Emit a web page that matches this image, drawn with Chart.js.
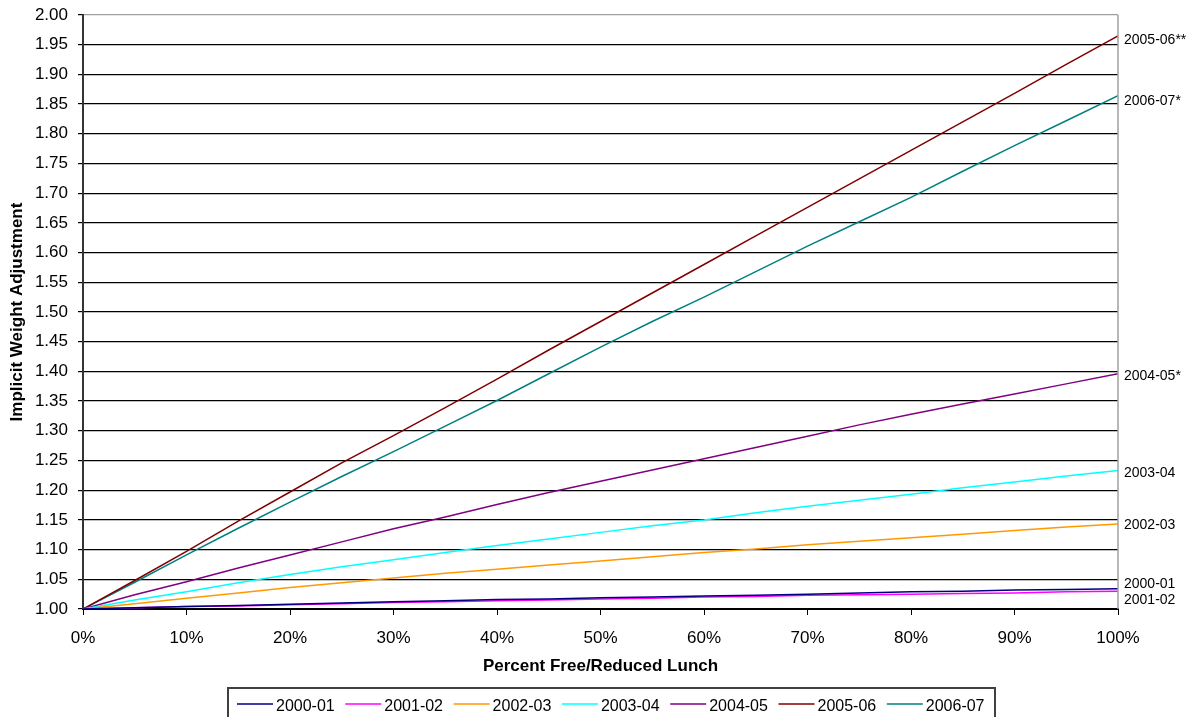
<!DOCTYPE html>
<html>
<head>
<meta charset="utf-8">
<script src="https://cdn.jsdelivr.net/npm/chart.js@4.4.1/dist/chart.umd.min.js"></script>
<style>
  body { margin: 0; background: #fff; }
  canvas { display: block; }
</style>
</head>
<body>
<canvas id="myChart" width="1190" height="717"></canvas>
<script>
// percent free/reduced lunch (x values)
const pct = [0, 5, 10, 15, 20, 25, 30, 35, 40, 45, 50, 55, 60, 65, 70, 75, 80, 85, 90, 95, 100]

const seriesNames = ['2000-01', '2001-02', '2002-03', '2003-04', '2004-05', '2005-06', '2006-07']
const endLabels = ['2000-01', '2001-02', '2002-03', '2003-04', '2004-05*', '2005-06**', '2006-07*']
const seriesColors = ['#000080', '#ff00ff', '#ff9900', '#00ffff', '#800080', '#800000', '#008080']

const y2000 = [1.000, 1.002, 1.004, 1.006, 1.008, 1.010, 1.012, 1.014, 1.016, 1.017, 1.019, 1.020, 1.022, 1.023, 1.025, 1.027, 1.029, 1.030, 1.032, 1.033, 1.034]
const y2001 = [1.000, 1.002, 1.004, 1.005, 1.007, 1.009, 1.011, 1.012, 1.014, 1.015, 1.017, 1.018, 1.020, 1.021, 1.023, 1.024, 1.025, 1.026, 1.027, 1.029, 1.030]
const y2002 = [1.000, 1.009, 1.018, 1.027, 1.036, 1.044, 1.052, 1.060, 1.067, 1.074, 1.081, 1.088, 1.095, 1.101, 1.108, 1.114, 1.120, 1.126, 1.132, 1.138, 1.143]
const y2003 = [1.000, 1.015, 1.029, 1.044, 1.058, 1.071, 1.083, 1.095, 1.107, 1.118, 1.129, 1.140, 1.150, 1.162, 1.173, 1.183, 1.193, 1.204, 1.214, 1.224, 1.233]
const y2004 = [1.000, 1.024, 1.046, 1.069, 1.091, 1.113, 1.135, 1.155, 1.176, 1.196, 1.215, 1.234, 1.253, 1.272, 1.291, 1.310, 1.328, 1.345, 1.362, 1.379, 1.396]
const y2005 = [1.000, 1.048, 1.097, 1.148, 1.197, 1.246, 1.292, 1.339, 1.387, 1.436, 1.484, 1.532, 1.580, 1.628, 1.676, 1.724, 1.772, 1.820, 1.868, 1.917, 1.965]
const y2006 = [1.000, 1.045, 1.091, 1.136, 1.180, 1.223, 1.265, 1.308, 1.351, 1.396, 1.441, 1.484, 1.525, 1.568, 1.611, 1.652, 1.693, 1.737, 1.780, 1.822, 1.864]

const allSeries = [y2000, y2001, y2002, y2003, y2004, y2005, y2006]

const datasets = allSeries.map((vals, i) => ({
    label: seriesNames[i],
    data: vals.map((v, j) => ({ x: pct[j], y: v })),
    borderColor: seriesColors[i],
    backgroundColor: seriesColors[i],
    borderWidth: 1.5,
    pointRadius: 0,
    tension: 0,
    fill: false
}))

// labels at the right end of each line
const endLabelPlugin = {
    id: 'endLabels',
    afterDatasetsDraw(chart) {
        const ctx = chart.ctx
        const area = chart.chartArea
        const dy = [-5, 9, 1, 3, 2, 4, 5]
        ctx.save()
        // gray right border of the plot
        ctx.strokeStyle = '#a0a0a0'
        ctx.lineWidth = 1.5
        ctx.beginPath()
        ctx.moveTo(area.right, area.top)
        ctx.lineTo(area.right, area.bottom)
        ctx.stroke()

        ctx.font = '14px Arial, "Liberation Sans", sans-serif'
        ctx.fillStyle = '#000'
        ctx.textAlign = 'left'
        ctx.textBaseline = 'middle'
        chart.data.datasets.forEach((ds, i) => {
            const pts = chart.getDatasetMeta(i).data
            const last = pts[pts.length - 1]
            ctx.fillText(endLabels[i], area.right + 6, last.y + dy[i])
        })
        ctx.restore()
    }
}

// boxed legend under the x axis title
const boxLegendPlugin = {
    id: 'boxLegend',
    afterDraw(chart) {
        const ctx = chart.ctx
        ctx.save()
        ctx.strokeStyle = '#404040'
        ctx.lineWidth = 2
        ctx.strokeRect(228, 688, 767, 60)
        ctx.font = '16px Arial, "Liberation Sans", sans-serif'
        ctx.textAlign = 'left'
        ctx.textBaseline = 'middle'
        chart.data.datasets.forEach((ds, i) => {
            const x = 237 + i * 108.3
            ctx.strokeStyle = ds.borderColor
            ctx.lineWidth = 1.5
            ctx.beginPath()
            ctx.moveTo(x, 704)
            ctx.lineTo(x + 36, 704)
            ctx.stroke()
            ctx.fillStyle = '#000'
            ctx.fillText(ds.label, x + 39, 707)
        })
        ctx.restore()
    }
}

const ctx = document.getElementById('myChart').getContext('2d')
const myChart = new Chart(ctx, {
    type: 'line',
    data: { datasets: datasets },
    plugins: [endLabelPlugin, boxLegendPlugin],
    options: {
        responsive: false,
        animation: false,
        layout: { padding: { left: 3, right: 72, top: 15, bottom: 36 } },
        plugins: {
            legend: { display: false },
            tooltip: { enabled: false }
        },
        scales: {
            x: {
                type: 'linear',
                min: 0,
                max: 100,
                afterFit: (scale) => { scale.height = 72 },
                ticks: {
                    stepSize: 10,
                    padding: 13,
                    color: '#000',
                    font: { family: 'Arial, "Liberation Sans", sans-serif', size: 17 },
                    callback: (v) => v + '%'
                },
                grid: {
                    drawOnChartArea: false,
                    drawTicks: true,
                    tickLength: 6,
                    color: '#000'
                },
                border: { color: '#000', width: 2 },
                title: {
                    display: true,
                    text: 'Percent Free/Reduced Lunch',
                    color: '#000',
                    font: { family: 'Arial, "Liberation Sans", sans-serif', size: 17, weight: 'bold' }
                }
            },
            y: {
                min: 1,
                max: 2,
                afterFit: (scale) => {
                    scale.width = 80
                    scale.paddingTop = 0
                    scale.paddingBottom = 0
                },
                ticks: {
                    stepSize: 0.05,
                    padding: 10,
                    color: '#000',
                    font: { family: 'Arial, "Liberation Sans", sans-serif', size: 17 },
                    callback: (v) => v.toFixed(2)
                },
                grid: {
                    color: (c) => (c.tick && c.tick.value > 1.999) ? '#a0a0a0' : '#000',
                    lineWidth: 1.2,
                    tickLength: 5,
                    tickColor: '#000'
                },
                border: { color: '#333', width: 2 },
                title: {
                    display: true,
                    text: 'Implicit Weight Adjustment',
                    color: '#000',
                    font: { family: 'Arial, "Liberation Sans", sans-serif', size: 17, weight: 'bold' }
                }
            }
        }
    }
})
</script>
</body>
</html>
